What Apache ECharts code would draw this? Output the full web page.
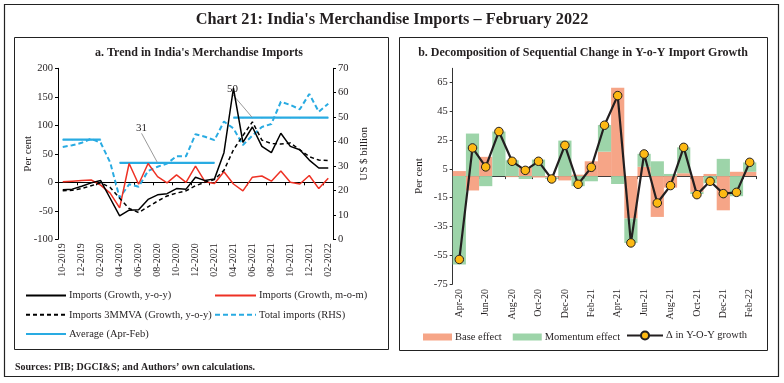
<!DOCTYPE html>
<html>
<head>
<meta charset="utf-8">
<script src="https://cdn.jsdelivr.net/npm/echarts@6/dist/echarts.min.js"></script>
<style>
html,body{margin:0;padding:0;background:#fff;}
#chart{width:784px;height:383px;}
</style>
</head>
<body>
<div id="chart"></div>
<script>
// ---------- Panel a data ----------
const monthsA = ['10-2019','11-2019','12-2019','01-2020','02-2020','03-2020','04-2020','05-2020','06-2020','07-2020','08-2020','09-2020','10-2020','11-2020','12-2020','01-2021','02-2021','03-2021','04-2021','05-2021','06-2021','07-2021','08-2021','09-2021','10-2021','11-2021','12-2021','01-2022','02-2022'];
const importsYoY = [-13,-12,-7,-1,3,-28,-59,-49,-48,-30,-22,-20,-11,-12,9,3,6,52,165,70,97,63,52,86,63,57,39,25,25];
const importsMoM = [1,2,3,4,-5,-19,-45,33,-3.5,33,10,-1,13,0,28.5,1,-2,18.5,-3,-15,9,11,2,20,0,-3,12,-11,7];
const imports3MMVA = [-15,-14,-11,-6,-1,-9,-28,-46,-53,-43,-33,-24,-19,-15,-6,0,5,21,57,82,106,74,68,67,69,57,45,39,38];
const totalImports = [37.8,38.5,39.5,41.2,39.5,31.5,17,22.5,21.5,28,29.7,31,34,34,43,42,40.6,48.2,45.4,38.6,42.5,46,47.2,56.3,55,53.2,59.5,52.2,55.5];
const avgValues = [40.8, 31.3, 49.8];
const avgRanges = [[0,4],[6,16],[18,28]];
const avgLabels = [null, '31', '50'];
const avgLabelIdx = [null, 10, 20];
const leftTicks = [-100, 200, 50];
const rightTicks = [0, 70, 10];

// ---------- Panel b data ----------
const monthsB = ['Apr-20','May-20','Jun-20','Jul-20','Aug-20','Sep-20','Oct-20','Nov-20','Dec-20','Jan-21','Feb-21','Mar-21','Apr-21','May-21','Jun-21','Jul-21','Aug-21','Sep-21','Oct-21','Nov-21','Dec-21','Jan-22','Feb-22'];
const baseEffect = [3.5,-10,13.4,0,-0.7,6,-1,-1,-3,1,10.3,17,61.5,-29.5,6.5,-28.4,-8,2,-11,1.5,-23.8,3,3];
const momentumEffect = [-61.5,29.6,-7,31,11,-2,11.5,-1,24.7,-7,-3.6,18.5,-5.5,-17,9,10.3,1.5,18,-1.5,-5,12,-14,6.5];
const deltaYoY = [-58,19.6,6.4,31,10.3,4,10.3,-2,21.4,-5.7,6.1,35.4,56,-46.5,15.4,-18.7,-6.6,20,-12.9,-3.6,-12.2,-11.3,9.6];
const yTicksB = [-75,-55,-35,-15,5,25,45,65];

// ---------- build ----------
const SERIF = 'Liberation Serif';
const TXT = '#231f20';

const avgData = monthsA.map(() => null);
avgRanges.forEach((r, k) => {
  for (let i = r[0]; i <= r[1]; i++) avgData[i] = avgValues[k];
  if (avgLabelIdx[k] !== null) {
    avgData[avgLabelIdx[k]] = {
      value: avgValues[k],
      label: { show: true, formatter: avgLabels[k] },
      labelLine: { show: true }
    };
  }
});

const chart = echarts.init(document.getElementById('chart'), null, {renderer: 'canvas'});

const axisLabelStyle = { color: TXT, fontFamily: SERIF, fontSize: 10.5 };
const legendText = { fontFamily: SERIF, fontSize: 10.5, color: TXT };

const option = {
  animation: false,
  backgroundColor: '#fff',
  textStyle: { fontFamily: SERIF, color: TXT },
  title: [
    { text: "Chart 21: India's Merchandise Imports \u2013 February 2022", left: 'center', top: 12, padding: 0,
      textStyle: { fontFamily: SERIF, fontWeight: 'bold', fontSize: 16.3, color: TXT } },
    { text: "a. Trend in India's Merchandise Imports", left: 199, top: 46.5, padding: 0, textAlign: 'center',
      textStyle: { fontFamily: SERIF, fontWeight: 'bold', fontSize: 12, color: TXT } },
    { text: "b. Decomposition of Sequential Change in Y-o-Y Import Growth", left: 583, top: 46.5, padding: 0, textAlign: 'center',
      textStyle: { fontFamily: SERIF, fontWeight: 'bold', fontSize: 12, color: TXT } },
    { text: "{b|Sources:} PIB; DGCI&S; and Authors\u2019 own calculations.", left: 15, top: 362, padding: 0,
      textStyle: { fontFamily: SERIF, fontSize: 10, color: TXT,
        rich: { b: { fontFamily: SERIF, fontWeight: 'bold', fontSize: 10, color: TXT } } } }
  ],
  graphic: [
    { type: 'rect', shape: { x: 4.5, y: 4.5, width: 774, height: 372 }, style: { fill: null, stroke: '#222', lineWidth: 1.2 }, silent: true },
    { type: 'rect', shape: { x: 14.5, y: 37.5, width: 374, height: 312 }, style: { fill: null, stroke: '#222', lineWidth: 1 }, silent: true },
    { type: 'rect', shape: { x: 399.5, y: 37.5, width: 368, height: 313 }, style: { fill: null, stroke: '#222', lineWidth: 1 }, silent: true }
  ],
  legend: [
    { orient: 'vertical', left: 25, top: 290, padding: 0, itemWidth: 40, itemHeight: 10, itemGap: 8.3,
      itemStyle: { opacity: 0 },
      data: ['Imports (Growth, y-o-y)', 'Imports 3MMVA (Growth, y-o-y)', 'Average (Apr-Feb)'],
      textStyle: Object.assign({ padding: [0,0,0,-2] }, legendText) },
    { orient: 'vertical', left: 214, top: 290, padding: 0, itemWidth: 41, itemHeight: 10, itemGap: 8.3,
      itemStyle: { opacity: 0 },
      data: ['Imports (Growth, m-o-m)', 'Total imports (RHS)'],
      textStyle: Object.assign({ padding: [0,0,0,-2] }, legendText) },
    { orient: 'horizontal', left: 423, top: 331.5, padding: 0, itemWidth: 29, itemHeight: 7, itemGap: 11, icon: 'rect',
      data: ['Base effect', 'Momentum effect'],
      textStyle: Object.assign({ padding: [0,0,0,-2] }, legendText) },
    { orient: 'horizontal', left: 626, top: 330, padding: 0, itemWidth: 36, itemHeight: 10,
      data: ['\u0394 in Y-O-Y growth'],
      textStyle: Object.assign({ padding: [0,0,0,-2] }, legendText) }
  ],
  grid: [
    { left: 58, top: 68.3, width: 275, height: 171 },
    { left: 452.7, top: 68.3, width: 303.6, height: 215.6 }
  ],
  xAxis: [
    { type: 'category', gridIndex: 0, data: monthsA, position: 'bottom', boundaryGap: true,
      axisLine: { show: false, onZero: false }, axisTick: { show: false },
      axisLabel: Object.assign({ interval: 1, rotate: 90, margin: 4 }, axisLabelStyle, { fontSize: 10 }) },
    { type: 'category', gridIndex: 0, data: monthsA, position: 'bottom', boundaryGap: true,
      axisLine: { show: true, onZero: true, onZeroAxisIndex: 0, lineStyle: { color: '#000', width: 1 } },
      axisTick: { show: true, interval: 1, length: 3, lineStyle: { color: '#000' } },
      axisLabel: { show: false } },
    { type: 'category', gridIndex: 1, data: monthsB, position: 'bottom', boundaryGap: true,
      axisLine: { show: false, onZero: false }, axisTick: { show: false },
      axisLabel: Object.assign({ interval: 1, rotate: 90, margin: 5 }, axisLabelStyle, { fontSize: 10 }) },
    { type: 'category', gridIndex: 1, data: monthsB, position: 'bottom', boundaryGap: true,
      axisLine: { show: true, onZero: true, onZeroAxisIndex: 2, lineStyle: { color: '#333', width: 1 } },
      axisTick: { show: true, interval: 1, length: 3, lineStyle: { color: '#333' } },
      axisLabel: { show: false } }
  ],
  yAxis: [
    { type: 'value', gridIndex: 0, min: leftTicks[0], max: leftTicks[1], interval: leftTicks[2], position: 'left',
      name: 'Per cent', nameLocation: 'middle', nameGap: 24, nameRotate: 90, nameMoveOverlap: false,
      nameTextStyle: { fontFamily: SERIF, fontSize: 11, color: TXT },
      axisLine: { show: true, lineStyle: { color: '#000' } },
      axisTick: { show: true, length: 3, lineStyle: { color: '#000' } },
      splitLine: { show: false },
      axisLabel: Object.assign({ margin: 5 }, axisLabelStyle) },
    { type: 'value', gridIndex: 0, min: rightTicks[0], max: rightTicks[1], interval: rightTicks[2], position: 'right',
      name: 'US $ billion', nameLocation: 'middle', nameGap: 26, nameRotate: 90, nameMoveOverlap: false,
      nameTextStyle: { fontFamily: SERIF, fontSize: 11, color: TXT },
      axisLine: { show: true, lineStyle: { color: '#000' } },
      axisTick: { show: true, length: 3, lineStyle: { color: '#000' } },
      splitLine: { show: false },
      axisLabel: Object.assign({ margin: 5 }, axisLabelStyle) },
    { type: 'value', gridIndex: 1, min: -75, max: 75, position: 'left',
      name: 'Per cent', nameLocation: 'middle', nameGap: 28, nameRotate: 90, nameMoveOverlap: false,
      nameTextStyle: { fontFamily: SERIF, fontSize: 11, color: TXT },
      axisLine: { show: true, lineStyle: { color: '#333' } },
      axisTick: { show: true, length: 3, customValues: yTicksB, lineStyle: { color: '#333' } },
      splitLine: { show: false },
      axisLabel: Object.assign({ margin: 5, customValues: yTicksB }, axisLabelStyle) }
  ],
  series: [
    { name: 'Total imports (RHS)', type: 'line', xAxisIndex: 0, yAxisIndex: 1, data: totalImports,
      symbol: 'none', color: '#29abe2', lineStyle: { color: '#29abe2', width: 2, type: [5, 3] }, z: 2 },
    { name: 'Average (Apr-Feb)', type: 'line', xAxisIndex: 0, yAxisIndex: 1, data: avgData,
      symbol: 'circle', symbolSize: 1, showSymbol: true, showAllSymbol: true, color: '#29abe2',
      itemStyle: { color: '#29abe2' },
      lineStyle: { color: '#29abe2', width: 2.2 }, connectNulls: false, z: 2,
      label: { show: false, position: 'top', fontFamily: SERIF, fontSize: 11, color: TXT },
      labelLine: { show: true, lineStyle: { color: '#9a9a9a', width: 1 } },
      labelLayout: function (p) {
        if (p.dataIndex === avgLabelIdx[1]) return { dx: -16, dy: -24 };
        if (p.dataIndex === avgLabelIdx[2]) return { dx: -20, dy: -18 };
        return {};
      } },
    { name: 'Imports (Growth, m-o-m)', type: 'line', xAxisIndex: 0, yAxisIndex: 0, data: importsMoM,
      symbol: 'none', color: '#ee3124', lineStyle: { color: '#ee3124', width: 1.5 }, z: 3 },
    { name: 'Imports 3MMVA (Growth, y-o-y)', type: 'line', xAxisIndex: 0, yAxisIndex: 0, data: imports3MMVA,
      symbol: 'none', color: '#000', lineStyle: { color: '#000', width: 1.5, type: [4, 3] }, z: 3 },
    { name: 'Imports (Growth, y-o-y)', type: 'line', xAxisIndex: 0, yAxisIndex: 0, data: importsYoY,
      symbol: 'none', color: '#000', lineStyle: { color: '#000', width: 1.5 }, z: 4 },

    { name: 'Base effect', type: 'bar', xAxisIndex: 2, yAxisIndex: 2, data: baseEffect, stack: 'dec',
      barCategoryGap: '0%', color: '#f6a587', itemStyle: { color: '#f6a587' } },
    { name: 'Momentum effect', type: 'bar', xAxisIndex: 2, yAxisIndex: 2, data: momentumEffect, stack: 'dec',
      barCategoryGap: '0%', color: '#9dd4a9', itemStyle: { color: '#9dd4a9' } },
    { name: '\u0394 in Y-O-Y growth', type: 'line', xAxisIndex: 2, yAxisIndex: 2, data: deltaYoY,
      symbol: 'circle', symbolSize: 8.5, showSymbol: true, showAllSymbol: true, z: 5,
      lineStyle: { color: '#231f20', width: 2.2 },
      itemStyle: { color: '#fdb913', borderColor: '#231f20', borderWidth: 1 } }
  ]
};
chart.setOption(option);
</script>
</body>
</html>
